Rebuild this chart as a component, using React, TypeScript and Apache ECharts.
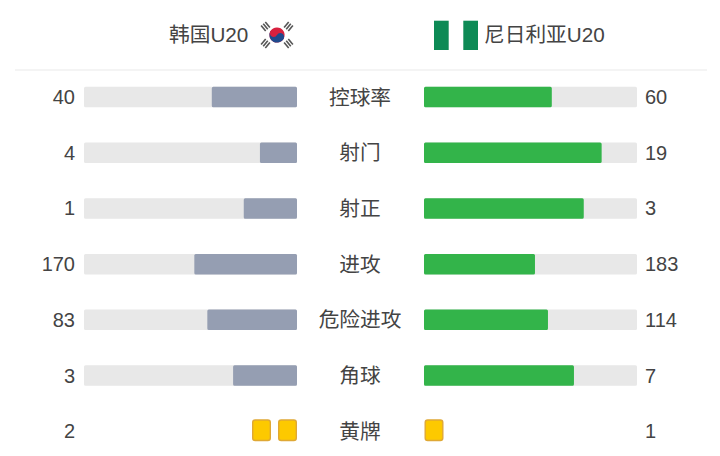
import React, { useEffect, useRef } from "react";
import * as echarts from "echarts";

const categories = ["控球率", "射门", "射正", "进攻", "危险进攻", "角球", "黄牌"];
const homeValues = ["40", "4", "1", "170", "83", "3", "2"];
const awayValues = ["60", "19", "3", "183", "114", "7", "1"];
const homeShare = [40, 17.4, 25, 48.2, 42.1, 30, null];
const awayShare = [60, 83.4, 75, 52.1, 58.2, 70.4, null];
const trackValues = [100, 100, 100, 100, 100, 100, null];
const homeCards = [[2, 6]];
const awayCards = [[1, 6]];
const homeName = "韩国U20";
const awayName = "尼日利亚U20";

const FONT = '"Liberation Sans", "Noto Sans CJK SC", sans-serif';
const TEXT = "#444444";
const TRACK = "#e8e8e8";
const HOME = "#959eb2";
const AWAY = "#33b44a";
const CARD = "#fdc900";
const CARD_BORDER = "#dfa835";
const ROW_TOP = 69.2;
const ROW_H = 389.9;
const BAR_W = 20.5;

function trigram(x: number, y: number, rot: number, key: string) {
  const kids = [-2.7, 0, 2.7].map((dy, i) => ({
    type: "rect",
    shape: { x: -3.6, y: dy - 0.8, width: 7.2, height: 1.6 },
    style: { fill: "#555555" },
    key: key + i,
  }));
  return { type: "group", x, y, rotation: rot, children: kids };
}

const koreaFlag = {
  type: "group",
  x: 277,
  y: 35,
  children: [
    trigram(-11.5, -8.5, -Math.PI / 4 - 0.1, "a"),
    trigram(11.5, -8.5, Math.PI / 4 + 0.1, "b"),
    trigram(-11.5, 8.5, Math.PI / 4 + 0.1, "c"),
    trigram(11.5, 8.5, -Math.PI / 4 - 0.1, "d"),
    {
      type: "group",
      rotation: -0.5,
      children: [
        { type: "circle", shape: { cx: 0, cy: 0, r: 7.6 }, style: { fill: "#d8213f" } },
        { type: "sector", shape: { cx: 0, cy: 0, r: 7.6, r0: 0, startAngle: 0, endAngle: Math.PI }, style: { fill: "#1f4a8e" } },
        { type: "circle", shape: { cx: -3.8, cy: 0, r: 3.8 }, style: { fill: "#d8213f" } },
        { type: "circle", shape: { cx: 3.8, cy: 0, r: 3.8 }, style: { fill: "#1f4a8e" } },
      ],
    },
  ],
};

export default function App() {
  const ref = useRef<HTMLDivElement>(null);
  useEffect(() => {
    const chart = echarts.init(ref.current!, undefined, { renderer: "svg" });
    const hiddenX = (gridIndex: number, inverse: boolean, max: number) => ({
      type: "value",
      gridIndex,
      inverse,
      min: 0,
      max,
      show: false,
    });
    const hiddenCat = { axisLine: { show: false }, axisTick: { show: false }, splitLine: { show: false } };
    const bar = (xIdx: number, yIdx: number, data: any[], color: string, z: number) => ({
      type: "bar",
      xAxisIndex: xIdx,
      yAxisIndex: yIdx,
      data,
      barWidth: BAR_W,
      barGap: "-100%",
      z,
      silent: true,
      itemStyle: { color, borderRadius: 1.5 },
    });
    const cards = (xIdx: number, yIdx: number, data: any[], dir: number) => ({
      type: "custom",
      coordinateSystem: "cartesian2d",
      xAxisIndex: xIdx,
      yAxisIndex: yIdx,
      data,
      encode: { x: 0, y: 1 },
      silent: true,
      z: 5,
      clip: false,
      renderItem: (_p: any, api: any) => {
        const count = api.value(0);
        const [x0, cy] = api.coord([0, api.value(1)]);
        const children = [];
        for (let i = 0; i < count; i++) {
          const left = dir > 0 ? x0 + 0.5 + i * 26 : x0 - 19 - i * 26;
          children.push({
            type: "rect",
            shape: { x: left + 0.7, y: cy - 11.3, width: 17.6, height: 20.6, r: 2.5 },
            style: { fill: CARD, stroke: CARD_BORDER, lineWidth: 1.4 },
          });
        }
        return { type: "group", children };
      },
    });
    chart.setOption({
      animation: false,
      backgroundColor: "#ffffff",
      textStyle: { fontFamily: FONT },
      grid: [
        { left: 84, width: 213, top: ROW_TOP, height: ROW_H, outerBoundsMode: "none" },
        { left: 424, width: 213, top: ROW_TOP, height: ROW_H, outerBoundsMode: "none" },
      ],
      xAxis: [hiddenX(0, true, 100), hiddenX(1, false, 100)],
      yAxis: [
        {
          type: "category",
          gridIndex: 0,
          inverse: true,
          data: homeValues,
          position: "left",
          ...hiddenCat,
          axisLabel: { interval: 0, margin: 9, color: TEXT, fontSize: 20, fontFamily: FONT, align: "right" },
        },
        {
          type: "category",
          gridIndex: 1,
          inverse: true,
          data: categories,
          position: "left",
          ...hiddenCat,
          axisLabel: { interval: 0, margin: 64, color: TEXT, fontSize: 20.7, fontFamily: FONT, align: "center" },
        },
        {
          type: "category",
          gridIndex: 1,
          inverse: true,
          data: awayValues,
          position: "right",
          ...hiddenCat,
          axisLabel: { interval: 0, margin: 8, color: TEXT, fontSize: 20, fontFamily: FONT, align: "left" },
        },
      ],
      series: [
        bar(0, 0, trackValues, TRACK, 1),
        bar(0, 0, homeShare, HOME, 2),
        bar(1, 1, trackValues, TRACK, 1),
        bar(1, 1, awayShare, AWAY, 2),
        cards(0, 0, homeCards, -1),
        cards(1, 1, awayCards, 1),
      ],
      graphic: [
        { type: "line", shape: { x1: 15, y1: 70, x2: 707, y2: 70 }, style: { stroke: "#f0f0f0", lineWidth: 1.5 } },
        { type: "text", x: 169, y: 34, style: { text: homeName, fontFamily: FONT, fontSize: 20.7, fill: TEXT, verticalAlign: "middle" } },
        { type: "text", x: 484, y: 34, style: { text: awayName, fontFamily: FONT, fontSize: 20.7, fill: TEXT, verticalAlign: "middle" } },
        koreaFlag,
        { type: "rect", shape: { x: 434, y: 20.7, width: 14.7, height: 29.3 }, style: { fill: "#0d8a55" } },
        { type: "rect", shape: { x: 463.3, y: 20.7, width: 14.7, height: 29.3 }, style: { fill: "#0d8a55" } },
      ],
    });
    return () => chart.dispose();
  }, []);
  return <div ref={ref} style={{ position: "fixed", left: 0, top: 0, width: 720, height: 456 }} />;
}
